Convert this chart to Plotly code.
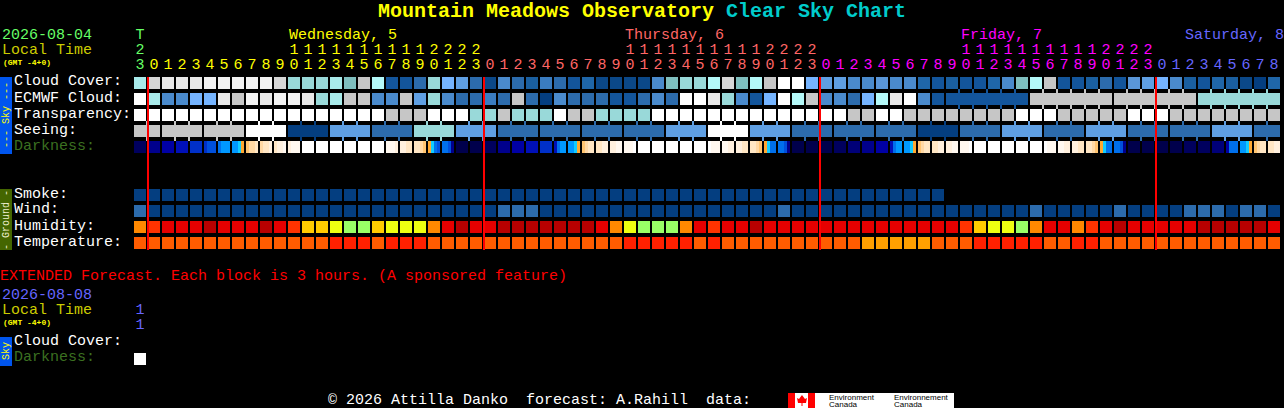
import plotly.graph_objects as go

W, H = 1284, 408
FONT = "Liberation Mono"

# ---------- data (one code per hourly block) ----------
HOURS = [23] + list(range(24)) * 3 + list(range(9))
DAY_OF_COLUMN = [0] + [1] * 24 + [2] * 24 + [3] * 24 + [4] * 9
DAY_COLOURS = ["#66ff66", "#ffff00", "#ff6666", "#ff00ff", "#6666ff"]
DAY_NAMES = ["Wednesday, 5", "Thursday, 6", "Friday, 7", "Saturday, 8"]
DAY_LABEL_PX = [289, 625, 961, 1185]

CLOUD = "HJkkkKKKKK" "JhhhHgjibb" "chfecAdcBD" "cbCAAAAdgh" "hiJgijllfe" "eddEddCbBb" "bCdgijbbBc" "bEefdBbCBAaC"
ECMWF = "lHddffkjKk" "KKkhHjjddj" "ehdccDcjca" "dcccbbcdcl" "lkhdbflijd" "dcfikldbbb" "bbbbjjjjjj" "jjjjjjhhhhhh"
TRANSPARENCY = "l" * 18 + "jjjlllhhjhhhljjhhhh" + "l" * 14 + "jjll" + "j" * 8 + "lll" + "j" * 5 + "lll" + "j" * 8
SEEING_BLOCK_VALUES = "jjjlaechecccceleccc" "acececcec"
SEEING_BLOCK_SIZES = [2] + [3] * 26 + [2]
ECMWF_BLOCK_SIZES = [1] * 58 + [6, 6, 6, 6]
DARKNESS = ["1111", "3333", "4444", "5555", "6666", "6777", "8999", "99ca", "bdde", "deef", "effg", "fggg",
            "wwww", "wwww", "wwww", "wwww", "wwww", "wwww", "gggf", "ffee", "eedb", "ac87", "8873", "0000",
            "0000", "1111", "3333", "4444", "5555", "6666", "5899", "99ca", "bdee", "eeff", "ffgg", "gggw",
            "wwww", "wwww", "wwww", "wwww", "wwww", "wggg", "ggff", "ffee", "eedb", "ac88", "8873", "0000",
            "0000", "0000", "1111", "2222", "3333", "4444", "5899", "99ca", "bdee", "eeff", "ffgg", "gggw",
            "wwww", "wwww", "wwww", "wwww", "wwww", "wggg", "ggff", "ffee", "eedb", "ac88", "8873", "0000",
            "0000", "0000", "0000", "1111", "1111", "2222", "4888", "99ca", "bdee", "eeff"]
SMOKE = "a" * 58
WIND = "c" + "a" * 25 + "ccc" + "a" * 17 + "c" + "a" * 17 + "c" + "a" * 5 + "c" + "aaaa" + "ccc" + "a" + "cc" + "a"
HUMIDITY = "OrRRRDRRRD" "RrYYyGGYyy" "yORDRRDDDD" "DDDROyGGGO" "RrRRDRRRRR" "RRRRRRRRRr" "YyyGORROrR" "DRRRRRDDDDDR"
TEMPERATURE = "o" * 14 + "ttt" + "o" + "ttt" + "o" * 14 + "t" * 5 + "o" + "t" + "o" * 10 + "A" * 5 + "ooo" + "t" * 5 + "oo" + "tt" + "o" * 13
EXT_DARKNESS = "l"
MIDNIGHT_MARKS = [0.5714, 24.5714, 48.5714, 72.5714]

ROW_LABELS = ["Cloud Cover:", "ECMWF Cloud:", "Transparency:", "Seeing:", "Darkness:"]
GROUND_LABELS = ["Smoke:", "Wind:", "Humidity:", "Temperature:"]

# ---------- colour keys ----------
SKY = {"a": "#043e80", "A": "#0b4888", "b": "#13559b", "B": "#1a5fa0", "C": "#1f66a8", "c": "#2c6bac",
       "D": "#3a7cc0", "d": "#4a8acc", "E": "#5a96d8", "e": "#5f9fe3", "f": "#75b4ff", "g": "#7fbfbf",
       "h": "#99d9d9", "H": "#a8eaea", "i": "#b4f9f9", "j": "#c6c6c6", "J": "#d6d6d6", "k": "#e8e8e8",
       "K": "#f2f2f2", "l": "#ffffff"}
DARK = {"0": "#00004c", "1": "#00005e", "2": "#000078", "3": "#00008c", "4": "#0000a4", "5": "#0010b8",
        "6": "#0030c8", "7": "#0050dc", "8": "#0070ec", "9": "#0098ff", "c": "#11ccff", "a": "#ffa830",
        "b": "#ffc470", "d": "#ffd8a4", "e": "#ffe6c4", "f": "#fff0de", "g": "#fff8f0", "w": "#ffffff"}
HUMID = {"O": "#ff8800", "r": "#ff3300", "R": "#e60000", "D": "#b80000", "Y": "#ffcc00", "y": "#eeff11",
         "G": "#99ff66"}
TEMP = {"o": "#ff5c00", "t": "#ff2000", "A": "#ffa000"}

ALL_COLOURS = []
for d in (SKY, DARK, HUMID, TEMP):
    for v in d.values():
        if v not in ALL_COLOURS:
            ALL_COLOURS.append(v)
N = len(ALL_COLOURS)
COLORSCALE = []
for i, c in enumerate(ALL_COLOURS):
    COLORSCALE += [[i / N, c], [(i + 1) / N, c]]


def codes(s, pal, n=82):
    out = [ALL_COLOURS.index(pal[ch]) for ch in s]
    return out + [None] * (n - len(out))


def expand(values, sizes):
    return "".join(v * s for v, s in zip(values, sizes))


def links(row, sizes):
    """Colour code in the gap after a block column when its neighbour is in the same group."""
    out = [None] * 81
    i = 0
    for s in sizes:
        for k in range(i, i + s - 1):
            out[k] = row[k]
        i += s
    return out


SEEING = expand(SEEING_BLOCK_VALUES, SEEING_BLOCK_SIZES)
cloud_z = codes(CLOUD, SKY)
ecmwf_z = codes(ECMWF, SKY)
transp_z = codes(TRANSPARENCY, SKY)
seeing_z = codes(SEEING, SKY)
smoke_z = codes(SMOKE, SKY)
wind_z = codes(WIND, SKY)
humid_z = codes(HUMIDITY, HUMID)
temp_z = codes(TEMPERATURE, TEMP)
blank = [None] * 82

# scales: a column is 14 px wide, a row is 16 px tall
def xdata(px):
    return (px - 140) / 14


def ydata(px):
    return (px - 83) / 16


fig = go.Figure()
common = dict(colorscale=COLORSCALE, zmin=-0.5, zmax=N - 0.5, showscale=False, hoverinfo="skip", zsmooth=False)

# hourly rows
fig.add_trace(go.Heatmap(
    x=list(range(82)), y=list(range(11)),
    z=[cloud_z, ecmwf_z, transp_z, seeing_z, blank, blank, blank, smoke_z, wind_z, humid_z, temp_z],
    xgap=2, ygap=4, **common))

# joined blocks (thin bridge between same-forecast neighbours)
fig.add_trace(go.Heatmap(
    x=[i + 0.5 for i in range(81)], y=[1, 3],
    z=[links(ecmwf_z, ECMWF_BLOCK_SIZES), links(seeing_z, SEEING_BLOCK_SIZES)],
    xgap=12, ygap=12, **common))

# darkness: four slices in every block
dark_x, dark_z = [], []
for i, cell in enumerate(DARKNESS):
    left = i - 6 / 14
    dark_x += [left + k * 3 / 14 for k in range(4)] + [left + 12 / 14]
    dark_z += [ALL_COLOURS.index(DARK[ch]) for ch in cell] + [None]
dark_x.append(81 + 0.5)
dark_z = dark_z[:-1] + [None]
fig.add_trace(go.Heatmap(x=dark_x, y=[3.5 + 1 / 8, 4.5 - 1 / 8], z=[dark_z], **common))

# extended forecast block
fig.add_trace(go.Heatmap(
    x=[-6 / 14, 6 / 14], y=[ydata(353), ydata(365)], z=[codes(EXT_DARKNESS, SKY, 1)], **common))

# now / midnight marks
lx, ly = [], []
for m in MIDNIGHT_MARKS:
    lx += [m, m, None]
    ly += [ydata(77), ydata(250), None]
fig.add_trace(go.Scatter(x=lx, y=ly, mode="lines", line=dict(color="#ff0000", width=2), hoverinfo="skip"))

# hour digits
col_colours = [DAY_COLOURS[d] for d in DAY_OF_COLUMN]
textfont = dict(family=FONT, size=15, color=col_colours)
fig.add_trace(go.Scatter(x=list(range(82)), y=[ydata(65)] * 82, mode="text",
                         text=[str(h % 10) for h in HOURS], textfont=textfont, hoverinfo="skip"))
fig.add_trace(go.Scatter(x=list(range(82)), y=[ydata(50)] * 82, mode="text",
                         text=[str(h // 10) if h >= 10 else "" for h in HOURS], textfont=textfont, hoverinfo="skip"))
fig.add_trace(go.Scatter(x=[0, 0], y=[ydata(35), ydata(325)], mode="text", text=["T", "1"],
                         textfont=dict(family=FONT, size=15, color=["#66ff66", "#6666ff"]), hoverinfo="skip"))
fig.add_trace(go.Scatter(x=[0], y=[ydata(310)], mode="text", text=["1"],
                         textfont=dict(family=FONT, size=15, color="#6666ff"), hoverinfo="skip"))


anns = []


def label(txt, x, y, color="#ffffff", size=15, bold=False, anchor="left", angle=0, family=FONT):
    anns.append(dict(text=f"<b>{txt}</b>" if bold else txt, x=(x - (2 if anchor == "left" else 0)) / W,
                     y=1 - y / H, xref="paper", yref="paper",
                     xanchor=anchor, yanchor="middle", showarrow=False, textangle=angle,
                     font=dict(family=family, size=size, color=color)))


label("Mountain Meadows Observatory", 378, 11, "#ffff00", 20, True)
label("Clear Sky Chart", 726, 11, "#00cccc", 20, True)
label("2026-08-04", 2, 35, "#66ff66")
label("Local Time", 2, 50, "#cccc00")
label("(GMT -4+0)", 3, 62, "#ffff00", 8, True)
for name, px, c in zip(DAY_NAMES, DAY_LABEL_PX, DAY_COLOURS[1:]):
    label(name, px, 35, c)
for i, t in enumerate(ROW_LABELS):
    label(t, 14, 82 + 16 * i, "#3b7020" if t.startswith("Dark") else "#ffffff")
for i, t in enumerate(GROUND_LABELS):
    label(t, 14, 194 + 16 * i)
label("EXTENDED Forecast. Each block is 3 hours. (A sponsored feature)", 0, 276, "#ff0000")
label("2026-08-08", 2, 295, "#6666ff")
label("Local Time", 2, 310, "#cccc00")
label("(GMT -4+0)", 3, 322, "#ffff00", 8, True)
label("Cloud Cover:", 14, 341)
label("Darkness:", 14, 357, "#3b7020")
label("--- Sky ---", 6, 115, "#ffff00", 10, anchor="center", angle=-90)
label("- Ground -", 6, 220, "#eeeecc", 10, anchor="center", angle=-90)
label("Sky", 6, 351, "#ffff00", 10, anchor="center", angle=-90)
label("\u00a9 2026 Attilla Danko\u00a0\u00a0forecast: A.Rahill\u00a0\u00a0data:", 328, 400)
label("Environment", 829, 397, "#000000", 8, family="Liberation Sans")
label("Canada", 829, 404, "#000000", 8, family="Liberation Sans")
label("Environnement", 894, 397, "#000000", 8, family="Liberation Sans")
label("Canada", 894, 404, "#000000", 8, family="Liberation Sans")


def rect(x0, y0, x1, y1, color):
    return dict(type="rect", xref="paper", yref="paper", x0=x0 / W, x1=x1 / W, y0=1 - y1 / H, y1=1 - y0 / H,
                fillcolor=color, line=dict(width=0), layer="below")


shapes = [rect(0, 77, 12, 154, "#0055ee"), rect(0, 189, 12, 250, "#446600"), rect(0, 337, 12, 366, "#0055ee"),
          rect(788, 393, 954, 408, "#ffffff"), rect(788, 393, 795, 408, "#ff0000"),
          rect(808, 393, 815, 408, "#ff0000")]
leaf = [(802, 395), (805, 399), (807, 398), (806, 403), (802.5, 403), (802.5, 406), (801.5, 406), (801.5, 403),
        (798, 403), (797, 398), (799, 399)]
shapes.append(dict(type="path", xref="paper", yref="paper", fillcolor="#ff0000", line=dict(width=0), layer="below",
                   path="M" + " L".join(f"{x / W:.5f},{1 - y / H:.5f}" for x, y in leaf) + " Z"))

fig.update_layout(
    width=W, height=H, margin=dict(l=0, r=0, t=0, b=0), showlegend=False,
    paper_bgcolor="#000000", plot_bgcolor="rgba(0,0,0,0)",
    xaxis=dict(range=[xdata(0), xdata(W)], visible=False, fixedrange=True),
    yaxis=dict(range=[ydata(H), ydata(0)], visible=False, fixedrange=True),
    annotations=anns, shapes=shapes,
)
fig.write_html("out.html", config={"displayModeBar": False},
               post_script="document.body.style.margin='0';document.body.style.background='#000';document.documentElement.style.overflow='hidden';")
